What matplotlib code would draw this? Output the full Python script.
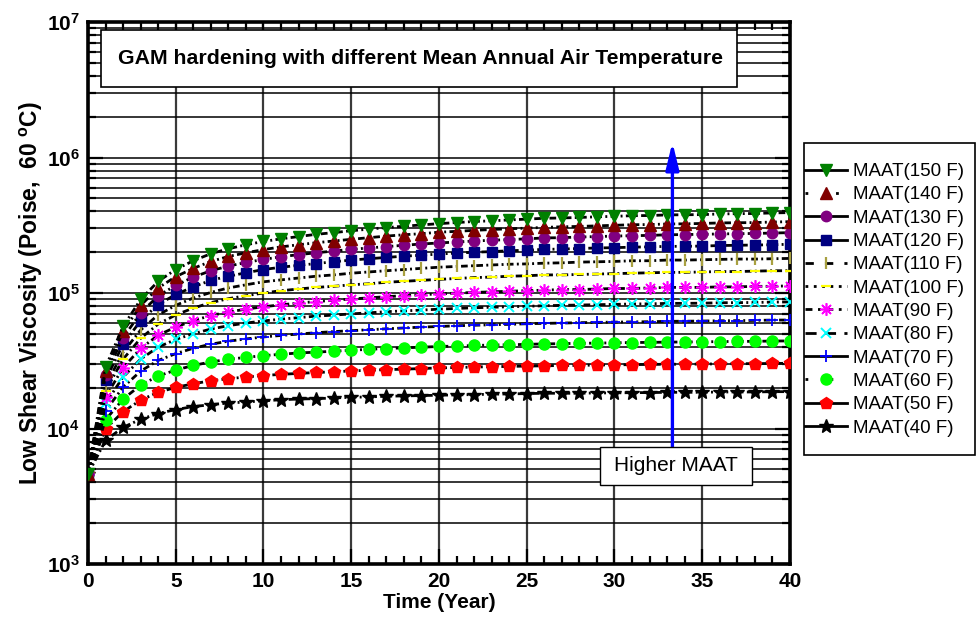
import numpy as np
import matplotlib
matplotlib.use("Agg")
import matplotlib.pyplot as plt
from matplotlib.lines import Line2D
from matplotlib.patches import Rectangle
from matplotlib.ticker import FixedLocator, MultipleLocator, FuncFormatter, NullFormatter

plt.rcParams.update({
    "font.family": ["Liberation Sans", "DejaVu Sans"],
    "mathtext.fontset": "custom",
    "mathtext.rm": "Liberation Sans:bold",
    "mathtext.bf": "Liberation Sans:bold",
    "mathtext.it": "Liberation Sans:bold",
})

# ---- data: low shear viscosity (Poise, 60 C) versus time (year) ----
years = list(range(0, 41))

visc_150F = [4.60e3, 2.84e4, 5.66e4, 8.96e4, 1.22e5, 1.49e5, 1.73e5, 1.95e5, 2.12e5, 2.27e5,
             2.40e5, 2.51e5, 2.61e5, 2.71e5, 2.79e5, 2.88e5, 2.96e5, 3.04e5, 3.11e5, 3.18e5,
             3.25e5, 3.31e5, 3.37e5, 3.41e5, 3.46e5, 3.51e5, 3.56e5, 3.58e5, 3.61e5, 3.65e5,
             3.68e5, 3.72e5, 3.73e5, 3.77e5, 3.78e5, 3.79e5, 3.83e5, 3.85e5, 3.86e5, 3.90e5, 3.92e5]
visc_140F = [4.60e3, 2.67e4, 5.20e4, 8.09e4, 1.09e5, 1.32e5, 1.52e5, 1.71e5, 1.86e5, 1.98e5,
             2.09e5, 2.19e5, 2.27e5, 2.35e5, 2.42e5, 2.49e5, 2.56e5, 2.63e5, 2.69e5, 2.74e5,
             2.81e5, 2.85e5, 2.90e5, 2.94e5, 2.98e5, 3.01e5, 3.05e5, 3.08e5, 3.10e5, 3.13e5,
             3.16e5, 3.19e5, 3.20e5, 3.23e5, 3.24e5, 3.26e5, 3.29e5, 3.30e5, 3.31e5, 3.34e5, 3.36e5]
visc_130F = [4.60e3, 2.48e4, 4.68e4, 7.13e4, 9.51e4, 1.14e5, 1.31e5, 1.46e5, 1.58e5, 1.68e5,
             1.77e5, 1.85e5, 1.92e5, 1.98e5, 2.04e5, 2.10e5, 2.15e5, 2.20e5, 2.25e5, 2.30e5,
             2.34e5, 2.38e5, 2.42e5, 2.45e5, 2.48e5, 2.51e5, 2.55e5, 2.56e5, 2.59e5, 2.61e5,
             2.63e5, 2.65e5, 2.66e5, 2.69e5, 2.70e5, 2.71e5, 2.73e5, 2.74e5, 2.75e5, 2.77e5, 2.79e5]
visc_120F = [4.60e3, 2.28e4, 4.18e4, 6.25e4, 8.22e4, 9.75e4, 1.11e5, 1.24e5, 1.33e5, 1.41e5,
             1.49e5, 1.55e5, 1.60e5, 1.65e5, 1.70e5, 1.75e5, 1.79e5, 1.83e5, 1.87e5, 1.90e5,
             1.94e5, 1.97e5, 2.00e5, 2.02e5, 2.05e5, 2.07e5, 2.10e5, 2.11e5, 2.13e5, 2.15e5,
             2.16e5, 2.18e5, 2.19e5, 2.21e5, 2.21e5, 2.22e5, 2.24e5, 2.25e5, 2.26e5, 2.27e5, 2.29e5]
visc_110F = [4.60e3, 2.07e4, 3.66e4, 5.33e4, 6.90e4, 8.11e4, 9.18e4, 1.01e5, 1.09e5, 1.15e5,
             1.21e5, 1.25e5, 1.29e5, 1.33e5, 1.36e5, 1.40e5, 1.43e5, 1.46e5, 1.49e5, 1.52e5,
             1.55e5, 1.57e5, 1.59e5, 1.61e5, 1.63e5, 1.64e5, 1.66e5, 1.67e5, 1.69e5, 1.70e5,
             1.71e5, 1.73e5, 1.73e5, 1.75e5, 1.75e5, 1.76e5, 1.77e5, 1.78e5, 1.78e5, 1.79e5, 1.80e5]
visc_100F = [4.60e3, 1.90e4, 3.25e4, 4.63e4, 5.90e4, 6.89e4, 7.74e4, 8.49e4, 9.08e4, 9.55e4,
             1.00e5, 1.04e5, 1.07e5, 1.10e5, 1.12e5, 1.15e5, 1.17e5, 1.20e5, 1.22e5, 1.24e5,
             1.26e5, 1.28e5, 1.30e5, 1.31e5, 1.33e5, 1.34e5, 1.36e5, 1.36e5, 1.37e5, 1.38e5,
             1.39e5, 1.40e5, 1.41e5, 1.42e5, 1.42e5, 1.43e5, 1.44e5, 1.44e5, 1.45e5, 1.46e5, 1.46e5]
visc_90F = [4.60e3, 1.71e4, 2.81e4, 3.90e4, 4.88e4, 5.61e4, 6.25e4, 6.82e4, 7.24e4, 7.60e4,
            7.92e4, 8.18e4, 8.43e4, 8.65e4, 8.83e4, 9.04e4, 9.20e4, 9.40e4, 9.55e4, 9.70e4,
            9.86e4, 9.98e4, 1.01e5, 1.02e5, 1.03e5, 1.04e5, 1.05e5, 1.06e5, 1.06e5, 1.07e5,
            1.08e5, 1.08e5, 1.09e5, 1.10e5, 1.10e5, 1.10e5, 1.11e5, 1.11e5, 1.12e5, 1.12e5, 1.13e5]
visc_80F = [4.60e3, 1.53e4, 2.40e4, 3.25e4, 3.99e4, 4.54e4, 5.01e4, 5.42e4, 5.74e4, 6.00e4,
            6.22e4, 6.41e4, 6.58e4, 6.75e4, 6.87e4, 7.01e4, 7.14e4, 7.28e4, 7.38e4, 7.48e4,
            7.60e4, 7.69e4, 7.78e4, 7.85e4, 7.91e4, 7.98e4, 8.05e4, 8.11e4, 8.15e4, 8.20e4,
            8.24e4, 8.30e4, 8.32e4, 8.38e4, 8.39e4, 8.41e4, 8.47e4, 8.49e4, 8.51e4, 8.57e4, 8.59e4]
visc_70F = [4.60e3, 1.35e4, 2.02e4, 2.65e4, 3.18e4, 3.57e4, 3.91e4, 4.19e4, 4.41e4, 4.58e4,
            4.74e4, 4.86e4, 4.98e4, 5.09e4, 5.19e4, 5.27e4, 5.36e4, 5.44e4, 5.52e4, 5.60e4,
            5.66e4, 5.73e4, 5.78e4, 5.83e4, 5.87e4, 5.93e4, 5.97e4, 6.00e4, 6.04e4, 6.07e4,
            6.10e4, 6.12e4, 6.14e4, 6.18e4, 6.19e4, 6.21e4, 6.24e4, 6.25e4, 6.28e4, 6.31e4, 6.32e4]
visc_60F = [4.60e3, 1.16e4, 1.65e4, 2.09e4, 2.44e4, 2.70e4, 2.92e4, 3.10e4, 3.24e4, 3.35e4,
            3.45e4, 3.53e4, 3.61e4, 3.66e4, 3.72e4, 3.78e4, 3.84e4, 3.89e4, 3.94e4, 3.98e4,
            4.03e4, 4.06e4, 4.10e4, 4.13e4, 4.15e4, 4.18e4, 4.21e4, 4.23e4, 4.25e4, 4.27e4,
            4.29e4, 4.31e4, 4.32e4, 4.34e4, 4.35e4, 4.36e4, 4.38e4, 4.39e4, 4.40e4, 4.42e4, 4.43e4]
visc_50F = [4.60e3, 9.95e3, 1.33e4, 1.62e4, 1.85e4, 2.01e4, 2.14e4, 2.25e4, 2.33e4, 2.40e4,
            2.46e4, 2.51e4, 2.55e4, 2.59e4, 2.62e4, 2.66e4, 2.69e4, 2.72e4, 2.74e4, 2.77e4,
            2.80e4, 2.82e4, 2.84e4, 2.86e4, 2.87e4, 2.89e4, 2.90e4, 2.92e4, 2.92e4, 2.94e4,
            2.95e4, 2.96e4, 2.97e4, 2.98e4, 2.98e4, 2.99e4, 3.00e4, 3.01e4, 3.01e4, 3.02e4, 3.03e4]
visc_40F = [4.60e3, 8.18e3, 1.02e4, 1.17e4, 1.29e4, 1.38e4, 1.45e4, 1.50e4, 1.54e4, 1.57e4,
            1.60e4, 1.63e4, 1.65e4, 1.66e4, 1.68e4, 1.70e4, 1.71e4, 1.73e4, 1.74e4, 1.75e4,
            1.76e4, 1.77e4, 1.78e4, 1.79e4, 1.80e4, 1.81e4, 1.82e4, 1.82e4, 1.82e4, 1.83e4,
            1.83e4, 1.84e4, 1.84e4, 1.85e4, 1.85e4, 1.85e4, 1.86e4, 1.86e4, 1.86e4, 1.87e4, 1.87e4]

series_labels = ["MAAT(150 F)", "MAAT(140 F)", "MAAT(130 F)", "MAAT(120 F)", "MAAT(110 F)",
                 "MAAT(100 F)", "MAAT(90 F)", "MAAT(80 F)", "MAAT(70 F)", "MAAT(60 F)",
                 "MAAT(50 F)", "MAAT(40 F)"]
series_values = [visc_150F, visc_140F, visc_130F, visc_120F, visc_110F, visc_100F,
                 visc_90F, visc_80F, visc_70F, visc_60F, visc_50F, visc_40F]

x_ticks = [0, 5, 10, 15, 20, 25, 30, 35, 40]
y_ticks = [1e3, 1e4, 1e5, 1e6, 1e7]

# ---- marker styles, one per series ----
styles = [
    dict(marker="v", color="#008000", ms=8.5),
    dict(marker="^", color="#800000", ms=8.5),
    dict(marker="o", color="#800080", ms=7.5),
    dict(marker="s", color="#000080", ms=7),
    dict(marker="|", color="#a8a040", ms=8, mew=1.6),
    dict(marker="_", color="#ffff00", ms=7, mew=1.6),
    dict(marker=(8, 2, 0), color="#ff00ff", ms=9, mew=1.2),
    dict(marker="x", color="#00ffff", ms=7.5, mew=1.4),
    dict(marker="+", color="#0000ff", ms=8.5, mew=1.3),
    dict(marker="o", color="#00ff00", ms=8),
    dict(marker="p", color="#ff0000", ms=9),
    dict(marker="*", color="#000000", ms=10),
]
legend_ls = ["-", (0, (1.0, 10)), "-", "-", (0, (3, 4)), (0, (1, 2)),
             (0, (2.5, 2, 1, 2)), (0, (4, 3)), "-", (0, (1, 8)), "-", "-"]
curve_ls = (0, (2.4, 1.2, 0.7, 1.2))

fig = plt.figure(figsize=(9.79, 6.23), dpi=100)
ax = fig.add_axes([88 / 979, 59 / 623, 702 / 979, 542 / 623])

# draw the coolest series first so the hottest sit on top
for vals, st in list(zip(series_values, styles))[::-1]:
    ax.plot(years, vals, linestyle=curve_ls, color="black", lw=2.0,
            marker=st["marker"], ms=st["ms"], mfc=st["color"], mec=st["color"],
            mew=st.get("mew", 1.0), zorder=3)

ax.set_yscale("log")
ax.set_xlim(0, 40)
ax.set_ylim(1e3, 1e7)

ax.xaxis.set_major_locator(FixedLocator(x_ticks))
ax.xaxis.set_minor_locator(MultipleLocator(1))
ax.yaxis.set_major_locator(FixedLocator(y_ticks))
minor_y = [m * 10.0 ** e for e in range(3, 7) for m in range(2, 10)]
ax.yaxis.set_minor_locator(FixedLocator(minor_y))
ax.yaxis.set_minor_formatter(NullFormatter())
ax.yaxis.set_major_formatter(FuncFormatter(lambda v, p: r"$10^{%d}$" % round(np.log10(v))))
ax.xaxis.set_major_formatter(FuncFormatter(lambda v, p: "%d" % v))

ax.set_axisbelow(True)
ax.yaxis.grid(True, which="both", color="black", lw=1.1)
ax.xaxis.grid(True, which="major", color="#3a3a3a", lw=1.6)

ax.tick_params(which="both", direction="in", top=True, right=True, width=1.6)
ax.tick_params(which="major", length=11, labelsize=15, pad=6)
ax.tick_params(which="minor", length=6)
for lab in ax.get_xticklabels():
    lab.set_fontweight("bold")
for sp in ax.spines.values():
    sp.set_linewidth(2.6)

ax.set_xlabel("Time (Year)", fontsize=15, fontweight="bold", labelpad=1)
ax.set_ylabel(r"Low Shear Viscosity (Poise,  60 $^{\mathbf{o}}$C)", fontsize=16.5,
              fontweight="bold", labelpad=1)

# title box inside the plot area
ax.add_patch(Rectangle((0.0185, 0.880), 0.906, 0.105, transform=ax.transAxes,
                       facecolor="white", edgecolor="black", lw=1.2, zorder=5))
ax.text(0.473, 0.932, "GAM hardening with different Mean Annual Air Temperature",
        transform=ax.transAxes, ha="center", va="center", fontsize=15.3,
        fontweight="bold", zorder=6)

# trend arrow and its caption
ax.annotate("", xy=(33.3, 0.778), xycoords=("data", "axes fraction"),
            xytext=(33.3, 0.216), textcoords=("data", "axes fraction"),
            arrowprops=dict(arrowstyle="-|>,head_length=0.9,head_width=0.22",
                            mutation_scale=18, color="#0000ff", lw=2.4,
                            shrinkA=0, shrinkB=0), zorder=6)
ax.add_patch(Rectangle((0.729, 0.146), 0.217, 0.070, transform=ax.transAxes,
                       facecolor="white", edgecolor="black", lw=1.0, zorder=6))
ax.text(0.8375, 0.181, "Higher MAAT", transform=ax.transAxes, ha="center",
        va="center", fontsize=15, zorder=7)

# legend outside the axes on the right
handles = [Line2D([], [], color="black", lw=2.0, linestyle=ls, marker=st["marker"],
                  ms=st["ms"], mfc=st["color"], mec=st["color"], mew=st.get("mew", 1.0))
           for st, ls in zip(styles, legend_ls)]
fig.patches.append(Rectangle((804 / 979, (623 - 455) / 623), 171 / 979, 312 / 623,
                             transform=fig.transFigure, facecolor="white",
                             edgecolor="black", lw=1.2, zorder=0))
fig.legend(handles, series_labels, loc="upper left",
           bbox_to_anchor=(805 / 979, (623 - 163) / 623), frameon=False,
           borderpad=0, borderaxespad=0, handlelength=2.25, handletextpad=0.3,
           labelspacing=0.33, numpoints=1, prop=dict(size=13.5))

fig.savefig("out.png", dpi=100)
